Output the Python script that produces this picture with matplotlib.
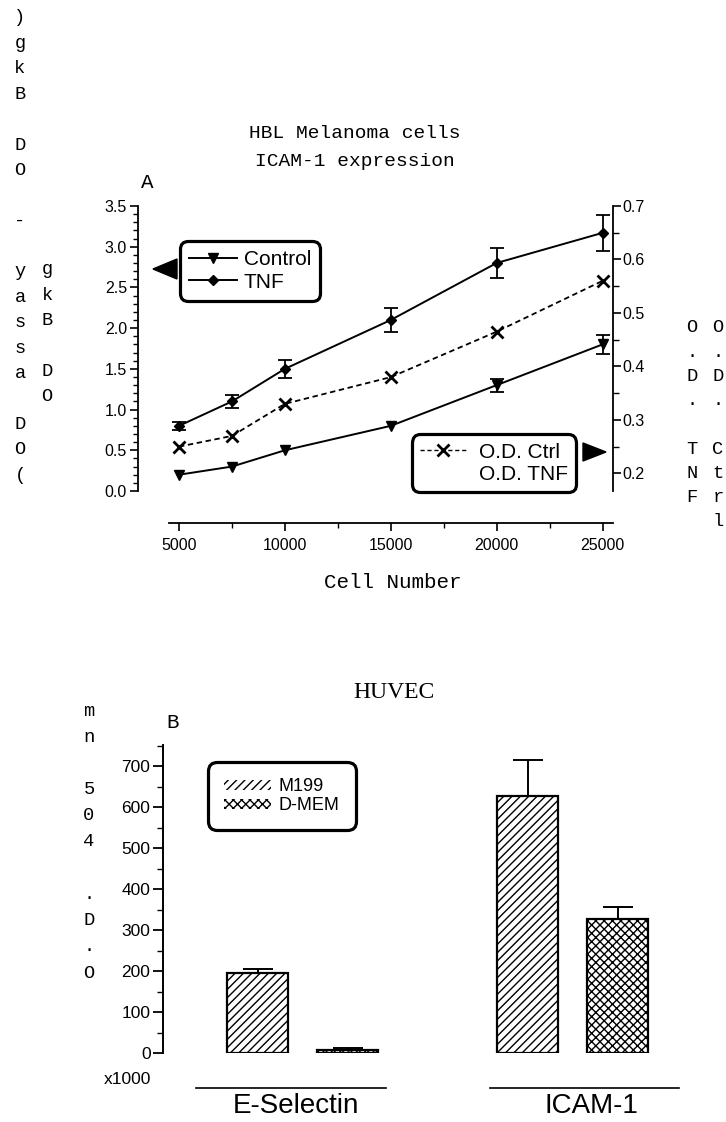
import matplotlib
matplotlib.use("Agg")
import matplotlib.pyplot as plt
import numpy as np
from matplotlib.lines import Line2D
from matplotlib.patches import Polygon, Rectangle
from matplotlib.ticker import MultipleLocator, FormatStrFormatter

# ---- data: panel A (HBL melanoma cells, ICAM-1 expression) ----
cell_number = [5000, 7500, 10000, 15000, 20000, 25000]
control = [0.20, 0.30, 0.50, 0.80, 1.30, 1.80]
control_err = [0.0, 0.0, 0.0, 0.0, 0.08, 0.12]
tnf = [0.80, 1.10, 1.50, 2.10, 2.80, 3.17]
tnf_err = [0.05, 0.08, 0.11, 0.15, 0.19, 0.22]
od_ctrl = [0.25, 0.27, 0.33, 0.38, 0.465, 0.56]

# ---- data: panel B (HUVEC) ----
categories = ["E-Selectin", "ICAM-1"]
m199 = [196, 627]
m199_err = [10, 87]
dmem = [8, 328]
dmem_err = [5, 28]

W, H = 726, 1122
SANS = "Liberation Sans"
MONO = "Liberation Mono"
SERIF = "Liberation Serif"

plt.rcParams["font.family"] = SANS
plt.rcParams["hatch.linewidth"] = 1.0


def fx(x):
    return x / W


def fy(y):
    return 1 - y / H


def stacked(fig, text, x, y0, step, size=13.5):
    # one character per line, the way the scanned axis titles look
    for i, ch in enumerate(text):
        if ch != " ":
            fig.text(fx(x), fy(y0 + i * step), ch, family=MONO, fontsize=size,
                     ha="center", va="center")


def boxed(leg, rounding=0.4):
    frame = leg.get_frame()
    frame.set_edgecolor("black")
    frame.set_linewidth(2.3)
    frame.set_boxstyle("round", pad=0, rounding_size=rounding)


fig = plt.figure(figsize=(W / 100, H / 100), dpi=100)

# ================= panel A =================
left, right, top, bottom = 138, 613, 206, 491
ax1 = fig.add_axes([fx(left), fy(bottom), (right - left) / W, (bottom - top) / H])

# x scale: 5000 -> px 179, 25000 -> px 602.5
px5k, px25k = 179, 602.5
per_px = (25000 - 5000) / (px25k - px5k)
ax1.set_xlim(5000 - (px5k - left) * per_px, 25000 + (right - px25k) * per_px)
ax1.set_ylim(0, 3.5)

ax1.plot(cell_number, control, color="black", lw=1.4, marker="v", ms=7.5, zorder=3)
ax1.plot(cell_number, tnf, color="black", lw=1.4, marker="D", ms=4.8, zorder=3)
ce = np.array(control_err)
cx = np.array(cell_number)
ax1.errorbar(cx[ce > 0], np.array(control)[ce > 0], yerr=ce[ce > 0], fmt="none",
             ecolor="black", elinewidth=1.3, capsize=5, capthick=1.3)
ax1.errorbar(cell_number, tnf, yerr=tnf_err, fmt="none", ecolor="black",
             elinewidth=1.3, capsize=5, capthick=1.3)

for s in ["top", "right"]:
    ax1.spines[s].set_visible(False)
ax1.spines["left"].set_linewidth(1.3)
ax1.spines["bottom"].set_linewidth(1.3)
ax1.spines["bottom"].set_position(("outward", 23))
ax1.spines["bottom"].set_bounds(5000 - 10 * per_px, ax1.get_xlim()[1])
ax1.xaxis.set_major_locator(MultipleLocator(5000))
ax1.xaxis.set_minor_locator(MultipleLocator(2500))
ax1.yaxis.set_major_locator(MultipleLocator(0.5))
ax1.yaxis.set_minor_locator(MultipleLocator(0.1))
ax1.yaxis.set_major_formatter(FormatStrFormatter("%.1f"))
ax1.tick_params(axis="both", which="major", direction="out", length=6, width=1.2,
                labelsize=11.5, pad=2)
ax1.tick_params(axis="both", which="minor", direction="out", length=3.5, width=1.0)
ax1.tick_params(axis="x", which="major", length=6, pad=5)
ax1.set_xticks([5000, 10000, 15000, 20000, 25000])

ax1r = ax1.twinx()
ax1r.set_ylim(0.2 - (bottom - 473.3) / 537, 0.7)
ax1r.plot(cell_number, od_ctrl, color="black", lw=1.3, ls=(0, (3, 2)),
          marker="x", ms=8, mew=2, zorder=3)
for s in ["top", "left", "bottom"]:
    ax1r.spines[s].set_visible(False)
ax1r.spines["right"].set_linewidth(1.3)
ax1r.yaxis.set_major_locator(MultipleLocator(0.1))
ax1r.yaxis.set_minor_locator(MultipleLocator(0.05))
ax1r.yaxis.set_major_formatter(FormatStrFormatter("%.1f"))
ax1r.tick_params(axis="y", which="major", direction="out", length=6, width=1.2,
                 labelsize=11.5, pad=1)
ax1r.tick_params(axis="y", which="minor", direction="out", length=4, width=1.0)

leg1 = fig.legend(
    [Line2D([], [], color="black", lw=1.4, marker="v", ms=7.5),
     Line2D([], [], color="black", lw=1.4, marker="D", ms=4.8)],
    ["Control", "TNF"], loc="upper left", bbox_to_anchor=(fx(180), fy(241)),
    fontsize=15, handlelength=2.3, handletextpad=0.3, labelspacing=0.15,
    borderpad=0.45, borderaxespad=0, fancybox=True, framealpha=1)
boxed(leg1)

leg2 = fig.legend(
    [Line2D([], [], color="black", lw=1.0, ls=(0, (3, 2)), marker="x", ms=8, mew=2),
     Line2D([], [], ls="none")],
    ["O.D. Ctrl", "O.D. TNF"], loc="lower right", bbox_to_anchor=(fx(576), fy(492)),
    fontsize=15, handlelength=2.2, handletextpad=0.6, labelspacing=0.15,
    borderpad=0.4, borderaxespad=0, fancybox=True, framealpha=1)
boxed(leg2)

# pointer triangles next to the legends
fig.add_artist(Polygon([(fx(153), fy(269)), (fx(177), fy(259)), (fx(177), fy(279))],
                       closed=True, color="black", transform=fig.transFigure))
fig.add_artist(Polygon([(fx(606), fy(452)), (fx(583), fy(443)), (fx(583), fy(461))],
                       closed=True, color="black", transform=fig.transFigure))

fig.text(fx(355), fy(134), "HBL Melanoma cells", family=MONO, fontsize=14,
         ha="center", va="center")
fig.text(fx(355), fy(161), "ICAM-1 expression", family=MONO, fontsize=14,
         ha="center", va="center")
fig.text(fx(147), fy(182), "A", family=MONO, fontsize=15, ha="center", va="center")
fig.text(fx(393), fy(583), "Cell Number", family=MONO, fontsize=15,
         ha="center", va="center")

stacked(fig, "(OD assay - OD Bkg)"[::-1], 20, 18, 25.4)
stacked(fig, "OD Bkg"[::-1], 47, 270, 25.4)
stacked(fig, "O.D. TNF", 692, 328, 24.2)
stacked(fig, "O.D. Ctrl", 718, 328, 24.2)

# ================= panel B =================
b_left, b_right, b_top, b_bottom = 163, 690, 745, 1053
ax2 = fig.add_axes([fx(b_left), fy(b_bottom), (b_right - b_left) / W,
                    (b_bottom - b_top) / H])
per100 = (b_bottom - 766) / 7
ax2.set_ylim(0, 700 + (766 - b_top) * 100 / per100)

unit = 90.0  # px per x data unit
g_center0 = 302.7
ax2.set_xlim((b_left - g_center0) / unit, (b_right - g_center0) / unit)
groups = np.array([0, 3])
bw = 0.68

ax2.bar(groups - 0.5, m199, bw, color="white", edgecolor="black", lw=1.6,
        hatch="////", zorder=2)
ax2.bar(groups + 0.5, dmem, bw, color="white", edgecolor="black", lw=1.6,
        hatch="xxxx", zorder=2)
ax2.errorbar(groups - 0.5, m199, yerr=[np.zeros(2), m199_err], fmt="none",
             ecolor="black", elinewidth=1.4, capsize=11, capthick=1.4, zorder=1)
ax2.errorbar(groups + 0.5, dmem, yerr=[np.zeros(2), dmem_err], fmt="none",
             ecolor="black", elinewidth=1.4, capsize=11, capthick=1.4, zorder=1)

for s in ["top", "right", "bottom"]:
    ax2.spines[s].set_visible(False)
ax2.spines["left"].set_linewidth(1.4)
ax2.yaxis.set_minor_locator(MultipleLocator(50))
ax2.set_yticks(range(0, 701, 100))
ax2.tick_params(axis="y", which="major", direction="out", length=7, width=1.3,
                labelsize=12.5, pad=2)
ax2.tick_params(axis="y", which="minor", direction="out", length=4.5, width=1.0)
ax2.set_xticks([])

# category labels sit on short rules below the bars
rule_shift = [-0.13, 0.13]
label_shift = [-0.07, 0.21]
xt = ax2.get_xaxis_transform()
line_y = -(1088 - b_bottom) / (b_bottom - b_top)
text_y = -(1106 - b_bottom) / (b_bottom - b_top)
for g, cat, rs, ls in zip(groups, categories, rule_shift, label_shift):
    ax2.plot([g + rs - 1.05, g + rs + 1.05], [line_y, line_y], color="black",
             lw=1.2, transform=xt, clip_on=False)
    ax2.text(g + ls, text_y, cat, transform=xt, fontsize=20, ha="center", va="center")

leg3 = fig.legend(
    [Rectangle((0, 0), 1, 1, facecolor="white", edgecolor="black", lw=0, hatch="////"),
     Rectangle((0, 0), 1, 1, facecolor="white", edgecolor="black", lw=0, hatch="xxxx")],
    ["M199", "D-MEM"], loc="upper left", bbox_to_anchor=(fx(208), fy(762)),
    fontsize=13, handlelength=2.6, handleheight=0.5, handletextpad=0.4,
    labelspacing=0.1, borderpad=0.9, borderaxespad=0, fancybox=True, framealpha=1)
boxed(leg3, 0.5)

fig.text(fx(394), fy(693), "HUVEC", family=SERIF, fontsize=17, ha="center", va="center")
fig.text(fx(173), fy(722), "B", family=MONO, fontsize=15, ha="center", va="center")
fig.text(fx(127), fy(1080), "x1000", family=SANS, fontsize=12.5, ha="center", va="center")
stacked(fig, "O.D. 405 nm"[::-1], 89, 711, 26.2)

fig.savefig("out.png", dpi=100)
